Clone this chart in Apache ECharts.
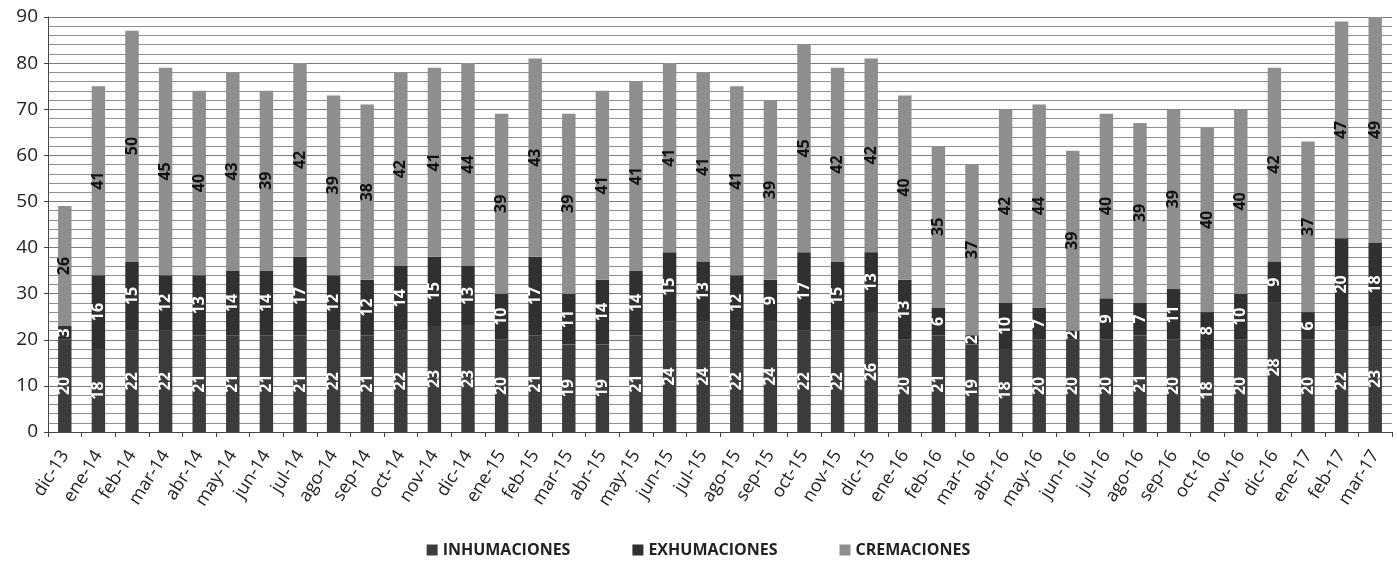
<!DOCTYPE html>
<html>
<head>
<meta charset="utf-8">
<script src="https://cdn.jsdelivr.net/npm/echarts@6/dist/echarts.min.js"></script>
<style>
html,body{margin:0;padding:0;background:#fff;}
#chart{width:1397px;height:565px;}
</style>
</head>
<body>
<div id="chart"></div>
<script>
const categories = ["dic-13","ene-14","feb-14","mar-14","abr-14","may-14","jun-14","jul-14","ago-14","sep-14","oct-14","nov-14","dic-14","ene-15","feb-15","mar-15","abr-15","may-15","jun-15","jul-15","ago-15","sep-15","oct-15","nov-15","dic-15","ene-16","feb-16","mar-16","abr-16","may-16","jun-16","jul-16","ago-16","sep-16","oct-16","nov-16","dic-16","ene-17","feb-17","mar-17"];
const inhumaciones = [20,18,22,22,21,21,21,21,22,21,22,23,23,20,21,19,19,21,24,24,22,24,22,22,26,20,21,19,18,20,20,20,21,20,18,20,28,20,22,23];
const exhumaciones = [3,16,15,12,13,14,14,17,12,12,14,15,13,10,17,11,14,14,15,13,12,9,17,15,13,13,6,2,10,7,2,9,7,11,8,10,9,6,20,18];
const cremaciones = [26,41,50,45,40,43,39,42,39,38,42,41,44,39,43,39,41,41,41,41,41,39,45,42,42,40,35,37,42,44,39,40,39,39,40,40,42,37,47,49];
const yTicks = [0,10,20,30,40,50,60,70,80,90];

const font = '"Open Sans",sans-serif';
function lbl(color){
  return {show:true, position:'inside', rotate:90, color:color, fontSize:16, fontWeight:'bold', fontFamily:font};
}
const chart = echarts.init(document.getElementById('chart'));
chart.setOption({
  animation:false,
  backgroundColor:'#fff',
  grid:{left:48, right:5, top:17, bottom:133},
  legend:{
    bottom:2, left:'center', itemWidth:11, itemHeight:11, itemGap:62,
    icon:'rect',
    textStyle:{fontFamily:font, fontSize:16, fontWeight:'bold', color:'#222'},
    data:['INHUMACIONES','EXHUMACIONES','CREMACIONES']
  },
  xAxis:{
    type:'category', data:categories,
    axisLine:{lineStyle:{color:'#444'}},
    axisTick:{show:true, length:5, lineStyle:{color:'#444'}},
    axisLabel:{rotate:58, fontSize:18, color:'#222', fontFamily:font, margin:20, interval:0},
    splitLine:{show:false}
  },
  yAxis:{
    type:'value', min:yTicks[0], max:yTicks[yTicks.length-1], interval:10,
    axisLine:{show:true, lineStyle:{color:'#444'}},
    axisTick:{show:true, length:4, lineStyle:{color:'#444'}},
    axisLabel:{fontSize:19, color:'#222', fontFamily:font, margin:10},
    splitLine:{show:true, lineStyle:{color:'#7a7a7a', width:1}},
    minorTick:{show:false, splitNumber:5},
    minorSplitLine:{show:true, lineStyle:{color:'#8f8f8f', width:1}}
  },
  series:[
    {name:'INHUMACIONES', type:'bar', stack:'t', data:inhumaciones, barWidth:'40%',
      itemStyle:{color:'#3c3c3c'}, label:lbl('#fff')},
    {name:'EXHUMACIONES', type:'bar', stack:'t', data:exhumaciones, barWidth:'40%',
      itemStyle:{color:'#303030'}, label:lbl('#fff')},
    {name:'CREMACIONES', type:'bar', stack:'t', data:cremaciones, barWidth:'40%',
      itemStyle:{color:'#8e8e8e'}, label:lbl('#111')}
  ]
});
</script>
</body>
</html>
